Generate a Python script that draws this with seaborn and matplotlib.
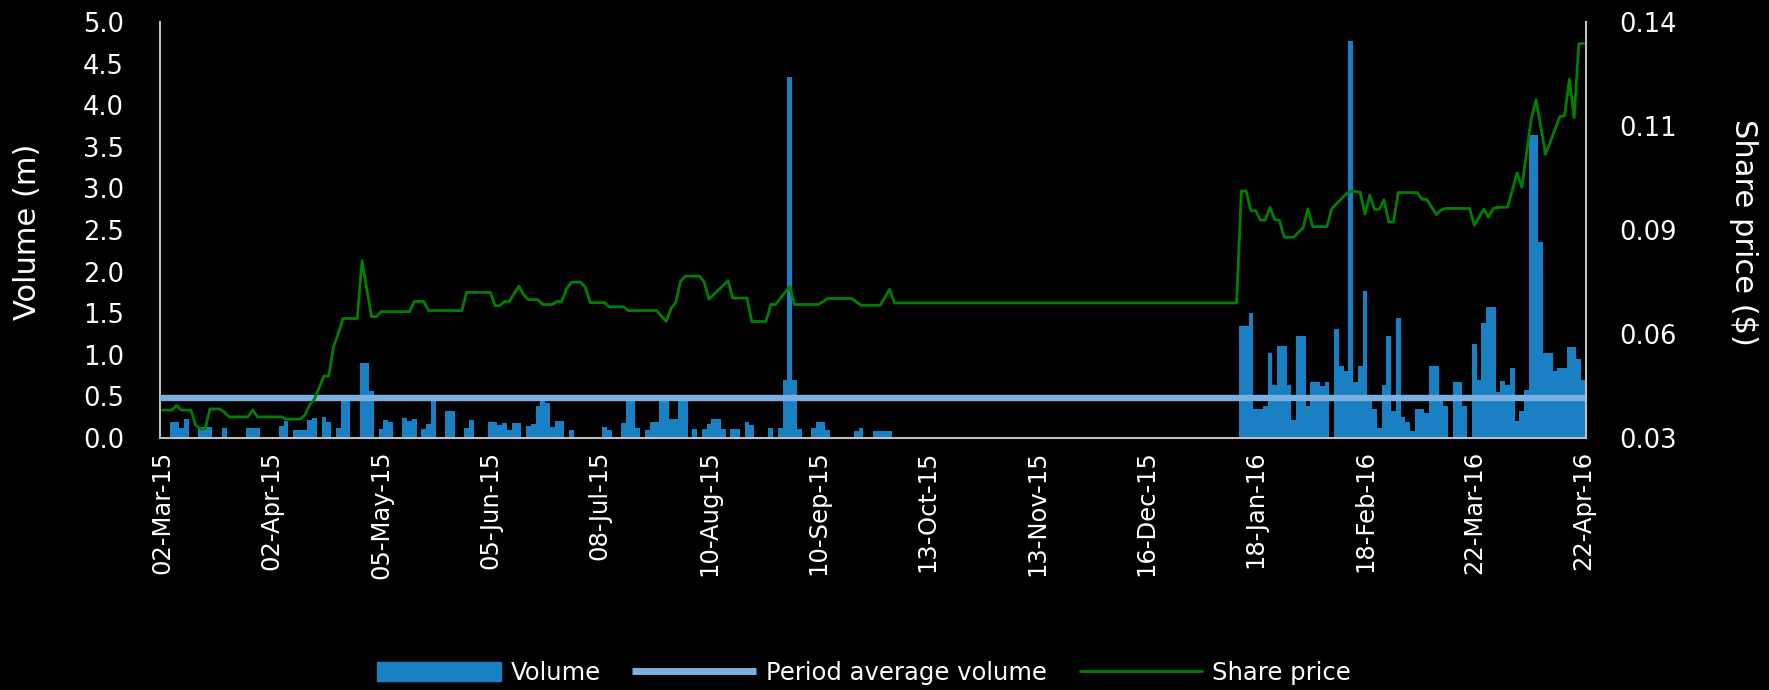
import numpy as np
import pandas as pd
import seaborn as sns
import matplotlib.pyplot as plt
from matplotlib.patches import Patch
from matplotlib.lines import Line2D

# trading calendar (weekdays) 02-Mar-15 .. 22-Apr-16, label every 23rd day
dates = pd.bdate_range('2015-03-02', '2016-04-22')

# daily volume (m) on days that traded, as index into dates
vol_day = [2, 3, 4, 5, 8, 9, 10, 13, 18, 19, 20, 25, 26, 28, 29, 30, 31, 32, 34, 35,
           37, 38, 39, 42, 43, 44, 46, 47, 48, 51, 52, 53, 55, 56, 57, 60, 61,
           64, 65, 69, 70, 71, 72, 73, 74, 75, 77, 78, 79, 80, 81, 82, 83, 84, 86,
           93, 94, 97, 98, 99, 100, 102, 103, 104, 105, 106, 107, 108, 109, 110,
           112, 114, 115, 116, 117, 118, 120, 121, 123, 124,
           128, 130, 131, 132, 133, 134, 137, 138, 139, 140, 146, 147, 150, 151, 152, 153,
           227, 228, 229, 230, 231, 232, 233, 234, 235, 236, 237, 238, 239, 240,
           241, 242, 243, 244, 245, 247, 248, 249, 250, 251, 252, 253, 254, 255,
           256, 257, 258, 259, 260, 261, 262, 263, 264, 265, 266, 267, 268, 269,
           270, 272, 273, 274, 276, 277, 278, 279, 280, 281, 282, 283, 284, 285,
           286, 287, 288, 289, 290, 291, 292, 293, 294, 295, 296, 297, 298, 299]
vol_m = [0.19, 0.19, 0.12, 0.23, 0.13, 0.13, 0.13, 0.12, 0.12, 0.12, 0.12, 0.15, 0.21, 0.10, 0.10, 0.10, 0.22, 0.24, 0.25, 0.19,
         0.12, 0.47, 0.47, 0.90, 0.90, 0.56, 0.11, 0.22, 0.19, 0.24, 0.21, 0.23, 0.11, 0.17, 0.48, 0.32, 0.32,
         0.12, 0.22, 0.19, 0.19, 0.16, 0.18, 0.10, 0.18, 0.18, 0.15, 0.17, 0.39, 0.47, 0.42, 0.13, 0.21, 0.21, 0.10,
         0.13, 0.10, 0.18, 0.47, 0.47, 0.12, 0.10, 0.19, 0.19, 0.47, 0.47, 0.23, 0.23, 0.47, 0.47,
         0.11, 0.11, 0.17, 0.23, 0.23, 0.11, 0.11, 0.11, 0.19, 0.16,
         0.12, 0.12, 0.70, 4.34, 0.70, 0.11, 0.12, 0.19, 0.19, 0.10, 0.08, 0.12, 0.08, 0.08, 0.08, 0.08,
         1.35, 1.35, 1.50, 0.35, 0.35, 0.38, 1.02, 0.64, 1.10, 1.10, 0.64, 0.22, 1.22, 1.22,
         0.38, 0.67, 0.67, 0.62, 0.67, 1.31, 0.87, 0.81, 4.77, 0.67, 0.87, 1.77, 0.48, 0.35,
         0.12, 0.64, 1.22, 0.33, 1.44, 0.25, 0.19, 0.08, 0.35, 0.35, 0.30, 0.87, 0.87, 0.45,
         0.38, 0.67, 0.67, 0.38, 1.13, 0.70, 1.38, 1.58, 1.58, 0.55, 0.68, 0.64, 0.84, 0.21,
         0.33, 0.58, 3.64, 3.64, 2.35, 1.02, 1.02, 0.80, 0.84, 0.84, 1.09, 1.09, 0.95, 0.70]

avg_volume = 0.48

# share price ($) read at days where the line changes
px_day = [0, 2, 3, 4, 6, 7, 8, 9, 10, 12, 13, 14, 18, 19, 20, 25, 26, 29, 30, 31,
          32, 33, 34, 35, 36, 37, 38, 41, 42, 44, 45, 46, 52, 53, 55, 56, 63, 64, 69, 70,
          71, 72, 73, 74, 75, 76, 77, 79, 80, 82, 83, 84, 85, 86, 88, 89, 90, 93, 94, 97,
          98, 104, 106, 107, 108, 109, 110, 113, 114, 115, 119, 120, 123, 124, 127, 128, 129, 132, 133, 138,
          140, 145, 147, 151, 153, 154, 226, 227, 228, 229, 230, 231, 232, 233, 234, 235, 236, 238, 240, 241,
          242, 245, 246, 249, 250, 252, 253, 254, 255, 256, 257, 258, 259, 260, 264, 265, 266, 268, 269, 270,
          275, 276, 278, 279, 280, 281, 283, 285, 286, 288, 289, 291, 294, 295, 296, 297, 298, 299]
px_val = [0.0374, 0.0374, 0.0386, 0.0374, 0.0374, 0.0334, 0.0324, 0.0324, 0.0377, 0.0377, 0.0369, 0.0356, 0.0356, 0.0374, 0.0356, 0.0356, 0.0350, 0.0350, 0.0361, 0.0388,
          0.0403, 0.0433, 0.0464, 0.0464, 0.0541, 0.0576, 0.0616, 0.0616, 0.0769, 0.0621, 0.0621, 0.0634, 0.0634, 0.0661, 0.0661, 0.0637, 0.0637, 0.0685, 0.0685, 0.0650,
          0.0650, 0.0661, 0.0661, 0.0682, 0.0701, 0.0679, 0.0666, 0.0666, 0.0653, 0.0653, 0.0661, 0.0661, 0.0693, 0.0712, 0.0712, 0.0698, 0.0658, 0.0658, 0.0647, 0.0647,
          0.0637, 0.0637, 0.0608, 0.0642, 0.0658, 0.0714, 0.0728, 0.0728, 0.0712, 0.0667, 0.0716, 0.0670, 0.0670, 0.0608, 0.0608, 0.0653, 0.0653, 0.0701, 0.0653, 0.0653,
          0.0669, 0.0669, 0.0651, 0.0651, 0.0693, 0.0657, 0.0657, 0.0953, 0.0953, 0.0901, 0.0901, 0.0876, 0.0876, 0.0910, 0.0878, 0.0876, 0.0831, 0.0831, 0.0856, 0.0906,
          0.0859, 0.0859, 0.0906, 0.0945, 0.0953, 0.0950, 0.0892, 0.0942, 0.0905, 0.0905, 0.0930, 0.0871, 0.0871, 0.0949, 0.0949, 0.0931, 0.0931, 0.0891, 0.0903, 0.0907,
          0.0907, 0.0863, 0.0905, 0.0884, 0.0907, 0.0910, 0.0910, 0.1001, 0.0963, 0.1145, 0.1194, 0.1050, 0.1150, 0.1152, 0.1249, 0.1147, 0.1343, 0.1343]

vol_ticks = np.arange(0, 5.01, 0.5)
px_ticks = np.linspace(0.03, 0.14, 5)
px_tick_labels = ['0.03', '0.06', '0.09', '0.11', '0.14']

bar_blue = '#1a80c4'
avg_blue = '#7aafdf'
green = '#008000'
grey = '#bfbfbf'

sns.set_theme(style='dark', rc={'figure.facecolor': 'black', 'axes.facecolor': 'black',
                                'text.color': 'white', 'xtick.color': 'white', 'ytick.color': 'white'})
plt.rcParams['font.family'] = ['DejaVu Sans']

volume = np.zeros(len(dates))
volume[vol_day] = vol_m
df = pd.DataFrame({'day': np.arange(len(dates)), 'volume': volume})

fig = plt.figure(figsize=(17.69, 6.9), dpi=100)
ax = fig.add_axes([160/1769, 1-438/690, 1426/1769, 416/690])

sns.barplot(data=df, x='day', y='volume', color=bar_blue, saturation=1, width=1.0,
            linewidth=0, errorbar=None, ax=ax, zorder=2)
ax.axhline(avg_volume, color=avg_blue, lw=4.6, zorder=3)

ax.set_xlim(-0.5, len(dates) - 0.5)
ax.set_ylim(0, 5.0)
ax.set_yticks(vol_ticks)
ax.set_yticklabels([f'{v:.1f}' for v in vol_ticks], fontsize=18.5)
ticks = np.arange(0, len(dates), 23)
ax.set_xticks(ticks)
ax.set_xticklabels([d.strftime('%d-%b-%y') for d in dates[ticks]], rotation=90, fontsize=17.5)
ax.tick_params(axis='y', length=0, pad=26)
ax.tick_params(axis='x', length=0, pad=9)
ax.set_xlabel('')
ax.set_ylabel('')
ax.grid(False)
for s in ['top', 'right']:
    ax.spines[s].set_visible(False)
for s in ['left', 'bottom']:
    ax.spines[s].set_visible(True)
    ax.spines[s].set_color(grey)
    ax.spines[s].set_linewidth(1.5)

ax2 = ax.twinx()
sns.lineplot(x=px_day, y=px_val, color=green, linewidth=2.0, ax=ax2)
ax2.set_ylim(0.03, 0.14)
ax2.set_yticks(px_ticks)
ax2.set_yticklabels(px_tick_labels, fontsize=18.5)
ax2.tick_params(axis='y', length=0, pad=24)
ax2.set_xlim(-0.5, len(dates) - 0.5)
ax2.grid(False)
for s in ['top', 'left', 'bottom']:
    ax2.spines[s].set_visible(False)
ax2.spines['right'].set_visible(True)
ax2.spines['right'].set_color(grey)
ax2.spines['right'].set_linewidth(1.5)

fig.text(28/1769, 1-232/690, 'Volume (m)', rotation=90, ha='center', va='center', fontsize=22)
fig.text(1743/1769, 1-232/690, 'Share price ($)', rotation=270, ha='center', va='center', fontsize=22)

handles = [Patch(color=bar_blue),
           Line2D([], [], color=avg_blue, lw=5, solid_capstyle='butt'),
           Line2D([], [], color=green, lw=2.0, solid_capstyle='butt')]
fig.legend(handles, ['Volume', 'Period average volume', 'Share price'], loc='center',
           bbox_to_anchor=(864/1769, 1-673/690), ncol=3, frameon=False, fontsize=17.5,
           handlelength=5.1, handleheight=0.8, handletextpad=0.4, columnspacing=1.3)

fig.savefig('out.png', dpi=100, facecolor='black')
